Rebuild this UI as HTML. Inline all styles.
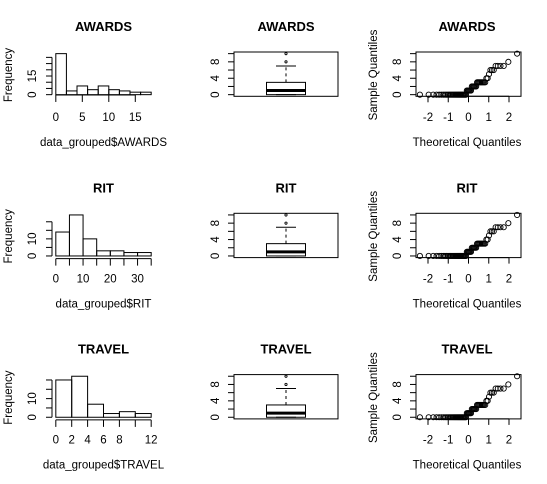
<!DOCTYPE html>
<html><head><meta charset="utf-8">
<style>
html,body{margin:0;padding:0;background:#fff;}
svg{display:block;font-family:"Liberation Sans",Arial,sans-serif;}
</style></head>
<body>
<svg id="c" width="547" height="484" viewBox="0 0 547 484" xmlns="http://www.w3.org/2000/svg"></svg>
<script>
// ---- data ----
const variables = ["AWARDS", "RIT", "TRAVEL"];
const awardsBreaks = [0,2,4,6,8,10,12,14,16,18];
const awardsCounts = [33,3,7,4,7,4,3,2,2];
const awardsXTicks = [0,5,10,15];
const awardsYTicks = [0,5,10,15,20,25,30];
const awardsYLabels = [0,15];
const ritBreaks = [0,5,10,15,20,25,30,35];
const ritCounts = [14,24,10,3,3,2,2];
const ritXTicks = [0,5,10,15,20,25,30,35];
const ritXLabels = [0,10,20,30];
const ritYTicks = [0,5,10,15,20];
const ritYLabels = [0,10];
const travelBreaks = [0,2,4,6,8,10,12];
const travelCounts = [20,22,7,2,3,2];
const travelXTicks = [0,2,4,6,8,10,12];
const travelXLabels = [0,2,4,6,8,12];
const travelYTicks = [0,5,10,15,20];
const travelYLabels = [0,10];
// boxplot stats (same for each panel)
const boxStats = [0, 0, 1, 3, 7]; // lower whisker, q1, median, q3, upper whisker
const boxOutliers = [8, 10];
const boxYTicks = [0,2,4,6,8,10];
const boxYLabels = [0,4,8];
// qq sample: values and their counts
const qqValues = [0,1,2,3,4,5,6,7,8,10];
const qqCounts = [28,6,6,9,2,1,3,4,1,1];
const qqXTicks = [-2,-1,0,1,2];

const NS="http://www.w3.org/2000/svg";
const svg=document.getElementById('c');
function mk(tag,attrs,parent){const e=document.createElementNS(NS,tag);for(const k in attrs)e.setAttribute(k,attrs[k]);(parent||svg).appendChild(e);return e;}
function txt(s,x,y,size,opts,parent){const t=mk('text',Object.assign({x:x,y:y,'font-size':size,'text-anchor':'middle',fill:'#000'},opts||{}),parent);t.textContent=s;return t;}
function lin(x1,y1,x2,y2,p,extra){return mk('line',Object.assign({x1:x1,y1:y1,x2:x2,y2:y2,stroke:'#000','stroke-width':1},extra||{}),p);}

function qnorm(p){ // Acklam approximation
 const a=[-39.69683028665376,220.9460984245205,-275.9285104469687,138.3577518672690,-30.66479806614716,2.506628277459239];
 const b=[-54.47609879822406,161.5858368580409,-155.6989798598866,66.80131188771972,-13.28068155288572];
 const c=[-0.007784894002430293,-0.3223964580411365,-2.400758277161838,-2.549732539343734,4.374664141464968,2.938163982698783];
 const d=[0.007784695709041462,0.3224671290700398,2.445134137142996,3.754408661907416];
 let q,r;
 if(p<0.02425){q=Math.sqrt(-2*Math.log(p));return (((((c[0]*q+c[1])*q+c[2])*q+c[3])*q+c[4])*q+c[5])/((((d[0]*q+d[1])*q+d[2])*q+d[3])*q+1);}
 if(p>1-0.02425){q=Math.sqrt(-2*Math.log(1-p));return -(((((c[0]*q+c[1])*q+c[2])*q+c[3])*q+c[4])*q+c[5])/((((d[0]*q+d[1])*q+d[2])*q+d[3])*q+1);}
 q=p-0.5;r=q*q;return (((((a[0]*r+a[1])*r+a[2])*r+a[3])*r+a[4])*r+a[5])*q/(((((b[0]*r+b[1])*r+b[2])*r+b[3])*r+b[4])*r+1);
}
function scale(d0,d1,r0,r1){return v=>r0+(v-d0)*(r1-r0)/(d1-d0);}
function ext(lo,hi){const e=(hi-lo)*0.04;return [lo-e,hi+e];}

const ROW=161.3;
const hists=[
 {breaks:awardsBreaks,counts:awardsCounts,xt:awardsXTicks,xl:awardsXTicks,yt:awardsYTicks,yl:awardsYLabels,xlab:"data_grouped$AWARDS"},
 {breaks:ritBreaks,counts:ritCounts,xt:ritXTicks,xl:ritXLabels,yt:ritYTicks,yl:ritYLabels,xlab:"data_grouped$RIT"},
 {breaks:travelBreaks,counts:travelCounts,xt:travelXTicks,xl:travelXLabels,yt:travelYTicks,yl:travelYLabels,xlab:"data_grouped$TRAVEL"}
];

hists.forEach((h,i)=>{
 const off=i*ROW, top=52+off, bot=96.3+off, L=52, R=155;
 const g=mk('g',{});
 
 
 const xl=ext(h.breaks[0],h.breaks[h.breaks.length-1]);
 const ymax=Math.max(...h.counts);
 const yl=ext(0,ymax);
 const x=scale(xl[0],xl[1],L,R), y=scale(yl[0],yl[1],bot,top);
 const t=txt(variables[i],103.5,31+off,13,{'font-weight':'bold'},g);
 
 
 h.counts.forEach((c,k)=>{
  const r=mk('rect',{x:x(h.breaks[k]),y:y(c),width:x(h.breaks[k+1])-x(h.breaks[k]),height:y(0)-y(c),fill:'none',stroke:'#000','stroke-width':1},g);
  
  
 });
 const ax=i===0?y(0)+0.3:bot+1;
 lin(x(h.xt[0]),ax,x(h.xt[h.xt.length-1]),ax,g);
 h.xt.forEach(v=>lin(x(v),ax,x(v),ax+7,g));
 h.xl.forEach(v=>{const tl=txt(String(v),x(v),121+off,11.5,{},g);
  
  });
 lin(L,y(h.yt[0]),L,y(h.yt[h.yt.length-1]),g);
 h.yt.forEach(v=>lin(L,y(v),L-6,y(v),g));
 h.yl.forEach(v=>{const tl=txt(String(v),0,0,11.5,{transform:`translate(36,${y(v)}) rotate(-90)`},g);
  
  });
 const xa=txt(h.xlab,103.5,146+off,11.5,{},g);
 
 
 const ya=txt("Frequency",0,0,11.5,{transform:`translate(12,${75+off}) rotate(-90)`},g);
 
 
});

const sample=[];
qqValues.forEach((v,k)=>{for(let j=0;j<qqCounts[k];j++)sample.push(v);});
const n=sample.length;
const theo=sample.map((v,k)=>qnorm((k+1-0.5)/n));

for(let i=0;i<3;i++){
 const off=i*ROW, top=52+off, bot=96.3+off;
 const allMax=Math.max(boxStats[4],...boxOutliers), allMin=boxStats[0];
 const yl=ext(allMin,allMax);
 const y=scale(yl[0],yl[1],bot,top);
 const g=mk('g',{});
 
 
 const L=234,R=338,cx=286;
 const bt=txt(variables[i],286,31+off,13,{'font-weight':'bold'},g);
 
 
 mk('rect',{x:L,y:top,width:R-L,height:bot-top,fill:'none',stroke:'#000'},g);
 lin(L,y(boxYTicks[0]),L,y(boxYTicks[boxYTicks.length-1]),g);
 boxYTicks.forEach(v=>lin(L,y(v),L-6,y(v),g));
 boxYLabels.forEach(v=>{const tl=txt(String(v),0,0,11.5,{transform:`translate(219,${y(v)}) rotate(-90)`},g);
  
  });
 const box=mk('rect',{x:cx-19.5,y:y(boxStats[3]),width:39,height:y(boxStats[1])-y(boxStats[3]),fill:'none',stroke:'#000'},g);
 
 
 lin(cx-19.5,y(boxStats[2]),cx+19.5,y(boxStats[2]),g,{'stroke-width':3});
 lin(cx,y(boxStats[3]),cx,y(boxStats[4]),g,{'stroke-dasharray':'3,3'});
 lin(cx-10,y(boxStats[4]),cx+10,y(boxStats[4]),g);
 lin(cx,y(boxStats[1]),cx,y(boxStats[0]),g,{'stroke-dasharray':'3,3'});
 lin(cx-10,y(boxStats[0]),cx+10,y(boxStats[0]),g);
 boxOutliers.forEach(v=>{const c=mk('circle',{cx:cx,cy:y(v),r:1.1,fill:'none',stroke:'#000','stroke-width':0.9},g);
  
  });

 const q=mk('g',{});
 
 
 const QL=416,QR=521;
 const xl=ext(Math.min(...theo),Math.max(...theo));
 const x=scale(xl[0],xl[1],QL,QR);
 const qt=txt(variables[i],467,31+off,13,{'font-weight':'bold'},q);
 
 
 mk('rect',{x:QL,y:top,width:QR-QL,height:bot-top,fill:'none',stroke:'#000'},q);
 lin(QL,y(boxYTicks[0]),QL,y(boxYTicks[boxYTicks.length-1]),q);
 boxYTicks.forEach(v=>lin(QL,y(v),QL-6,y(v),q));
 boxYLabels.forEach(v=>{const tl=txt(String(v),0,0,11.5,{transform:`translate(401,${y(v)}) rotate(-90)`},q);
  
  });
 lin(x(qqXTicks[0]),bot,x(qqXTicks[qqXTicks.length-1]),bot,q);
 qqXTicks.forEach(v=>{lin(x(v),bot,x(v),bot+6,q);
  const tl=txt(String(v),x(v),121+off,11.5,{},q);
  
  });
 sample.forEach((v,k)=>{const c=mk('circle',{cx:x(theo[k]),cy:y(v),r:2.6,fill:'none',stroke:'#000','stroke-width':0.9},q);
  
  });
 const xa=txt("Theoretical Quantiles",467,146+off,11.5,{},q);
 
 
 const ya=txt("Sample Quantiles",0,0,11.5,{transform:`translate(377,${75+off}) rotate(-90)`},q);
 
 
}
</script>
</body></html>
